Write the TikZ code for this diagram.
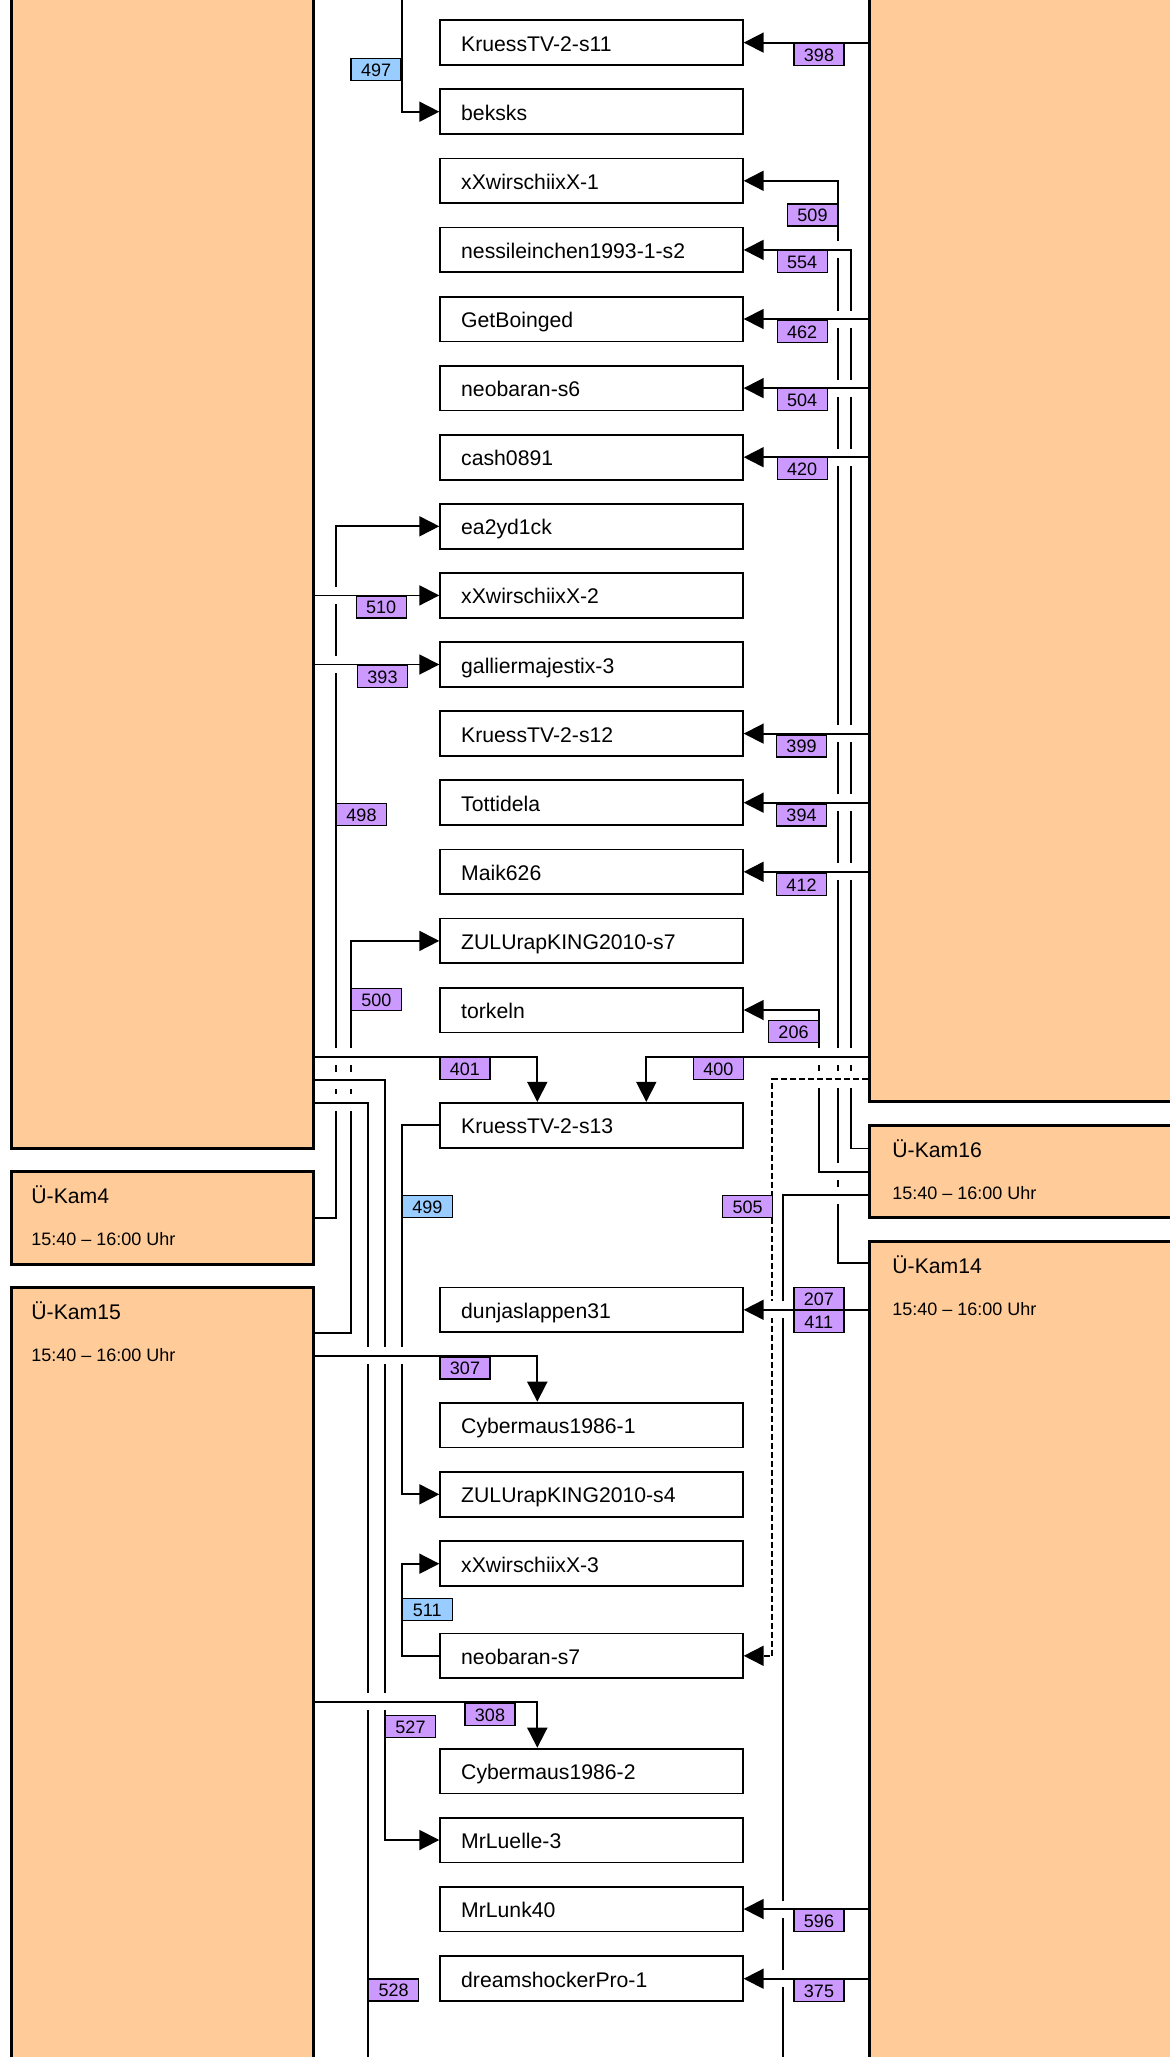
\documentclass[tikz,border=0pt]{standalone}
\usepackage{fontspec}
\setmainfont{Liberation Sans}
\usepackage{tikz}
\usetikzlibrary{arrows.meta}
\definecolor{kamorange}{HTML}{FFCC99}
\definecolor{taglila}{HTML}{CC99FF}
\definecolor{tagblau}{HTML}{99CCFF}
\tikzset{>={Triangle[length=10pt,width=10pt]}}
\tikzset{
  kam/.style={draw, line width=1.5pt, fill=kamorange, inner sep=0pt},
  slot/.style={draw, line width=0.9pt, fill=white, text width=130.3pt, align=left,
    inner xsep=10.5pt, inner ysep=0pt, minimum height=22.4pt, text height=8.5pt,
    text depth=0pt, font=\fontsize{10.6pt}{12pt}\selectfont},
  tag/.style={draw, line width=0.7pt, fill=taglila, inner sep=0pt, minimum width=25pt,
    minimum height=11pt, text height=6.8pt, text depth=0pt, font=\fontsize{9pt}{10pt}\selectfont},
  tagb/.style={tag, fill=tagblau},
  wire/.style={line width=0.9pt, preaction={draw=white, line width=8.5pt, solid, -}},
  planned/.style={wire, dash pattern=on 3pt off 1.5pt},
  kamname/.style={anchor=base west, inner sep=0pt, font=\fontsize{10.6pt}{12pt}\selectfont},
  kamtime/.style={anchor=base west, inner sep=0pt, font=\fontsize{9pt}{10pt}\selectfont}
}

\begin{document}
\begin{tikzpicture}[x=0.5pt, y=-0.5pt]
  \path[use as bounding box, fill=white] (0,0) rectangle (1170,2057);
  \clip (0,0) rectangle (1170,2057);

  % Kamerabereiche
  \node[kam, minimum width=151.15pt, minimum height=674.25pt] (kamL) at (162.15,474.25) {};
  \node[kam, minimum width=151.15pt, minimum height=46.75pt] (kam4) at (162.15,1217.75) {};
  \node[kam, minimum width=151.15pt, minimum height=506.5pt] (kam15) at (162.15,1793.5) {};
  \node[kam, minimum width=215.25pt, minimum height=650.65pt] (kamR) at (1084.75,450.65) {};
  \node[kam, minimum width=215.25pt, minimum height=45.85pt] (kam16) at (1084.75,1171.15) {};
  \node[kam, minimum width=215.25pt, minimum height=529.35pt] (kam14) at (1084.75,1770.65) {};
  \node[kamname] (kam4n) at (31,1203) {Ü-Kam4};
  \node[kamtime] (kam4t) at (31,1245.5) {15:40 – 16:00 Uhr};
  \node[kamname] (kam15n) at (31,1319) {Ü-Kam15};
  \node[kamtime] (kam15t) at (31,1361.5) {15:40 – 16:00 Uhr};
  \node[kamname] (kam16n) at (892,1157.3) {Ü-Kam16};
  \node[kamtime] (kam16t) at (892,1199.8) {15:40 – 16:00 Uhr};
  \node[kamname] (kam14n) at (892,1273.3) {Ü-Kam14};
  \node[kamtime] (kam14t) at (892,1315.8) {15:40 – 16:00 Uhr};

  % Slots
  \node[slot] (kruess11) at (591.5,42.6) {KruessTV-2-s11};
  \node[slot] (beksks) at (591.5,111.7) {beksks};
  \node[slot] (xx1) at (591.5,180.8) {xXwirschiixX-1};
  \node[slot] (nessi) at (591.5,249.9) {nessileinchen1993-1-s2};
  \node[slot] (getboinged) at (591.5,319) {GetBoinged};
  \node[slot] (neobaran6) at (591.5,388.1) {neobaran-s6};
  \node[slot] (cash) at (591.5,457.2) {cash0891};
  \node[slot] (ea) at (591.5,526.3) {ea2yd1ck};
  \node[slot] (xx2) at (591.5,595.4) {xXwirschiixX-2};
  \node[slot] (gallier) at (591.5,664.5) {galliermajestix-3};
  \node[slot] (kruess12) at (591.5,733.6) {KruessTV-2-s12};
  \node[slot] (totti) at (591.5,802.7) {Tottidela};
  \node[slot] (maik) at (591.5,871.8) {Maik626};
  \node[slot] (zulu7) at (591.5,940.9) {ZULUrapKING2010-s7};
  \node[slot] (torkeln) at (591.5,1010) {torkeln};
  \node[slot] (kruess13) at (591.5,1125.2) {KruessTV-2-s13};
  \node[slot] (dunja) at (591.5,1309.8) {dunjaslappen31};
  \node[slot] (cyber1) at (591.5,1425) {Cybermaus1986-1};
  \node[slot] (zulu4) at (591.5,1494.3) {ZULUrapKING2010-s4};
  \node[slot] (xx3) at (591.5,1563.7) {xXwirschiixX-3};
  \node[slot] (neobaran7) at (591.5,1655.8) {neobaran-s7};
  \node[slot] (cyber2) at (591.5,1771) {Cybermaus1986-2};
  \node[slot] (luelle) at (591.5,1840) {MrLuelle-3};
  \node[slot] (lunk) at (591.5,1909) {MrLunk40};
  \node[slot] (dream) at (591.5,1978.7) {dreamshockerPro-1};

  % Spuren und Hoehen
  \coordinate (lA) at (336.3,0);
  \coordinate (lB) at (351,0);
  \coordinate (lD) at (385.3,0);
  \coordinate (lE) at (401.7,0);
  \coordinate (rB) at (772.3,0);
  \coordinate (rD) at (819.3,0);
  \coordinate (rE) at (837.9,0);
  \coordinate (rF) at (850.7,0);
  \coordinate (h13) at (0,1056.8);
  \coordinate (h527) at (0,1080);
  \coordinate (h528) at (0,1102.7);
  \coordinate (h500) at (0,1332.7);
  \coordinate (h307) at (0,1355.7);
  \coordinate (h308) at (0,1701.7);
  \coordinate (h505) at (0,1079.3);
  \coordinate (h554) at (0,1148.5);
  \coordinate (h206) at (0,1171.8);
  \coordinate (h505s) at (0,1195);
  \coordinate (h509) at (0,1263);
  \coordinate (in497) at (401.7,-10);
  \coordinate (out528) at (368.3,2070);
  \coordinate (out505) at (783.3,2070);

  % links
  \draw[wire, ->] (kam4.east) -| (lA |- ea.west) -- (ea.west);
  \draw[wire, ->] (kam15.east |- h500) -| (lB |- zulu7.west) -- (zulu7.west);
  \draw[wire, ->] (kamL.east |- h527) -| (lD |- luelle.west) -- (luelle.west);
  \draw[wire] (kamL.east |- h528) -| (out528);
  \draw[wire, ->] (kruess13.west) -| (lE |- zulu4.west) -- (zulu4.west);
  \draw[wire, ->] (neobaran7.west) -| (lE |- xx3.west) -- (xx3.west);
  \draw[wire, ->] (in497) |- (beksks.west);
  \draw[wire, ->] (kamL.east |- xx2.west) -- (xx2.west);
  \draw[wire, ->] (kamL.east |- gallier.west) -- (gallier.west);
  \draw[wire, ->] (kamL.east |- h13) -| ([xshift=-27.1pt]kruess13.north);
  \draw[wire, ->] (kam15.east |- h307) -| ([xshift=-27.1pt]cyber1.north);
  \draw[wire, ->] (kam15.east |- h308) -| ([xshift=-27.1pt]cyber2.north);

  % rechts
  \draw[wire, ->] (kam14.west |- h509) -| (rE |- xx1.east) -- (xx1.east);
  \draw[wire, ->] (kam16.west |- h206) -| (rD |- torkeln.east) -- (torkeln.east);
  \draw[wire, ->] (kam16.west |- h554) -| (rF |- nessi.east) -- (nessi.east);
  \foreach \s in {kruess11,getboinged,neobaran6,cash,kruess12,totti,maik}
    \draw[wire, ->] (kamR.west |- \s.east) -- (\s.east);
  \draw[wire, ->] (kamR.west |- h13) -| ([xshift=27.4pt]kruess13.north);
  \draw[planned, ->] (kamR.west |- h505) -| (rB |- neobaran7.east) -- (neobaran7.east);
  \draw[wire] (kam16.west |- h505s) -| (out505);
  \foreach \s in {dunja,lunk,dream}
    \draw[wire, ->] (kam14.west |- \s.east) -- (\s.east);

  % Nummern
  \node[tagb] (t497) at (376.1,69.6) {497};
  \node[tag] (t398) at (819,54.2) {398};
  \node[tag] (t509) at (812.5,215) {509};
  \node[tag] (t554) at (802.2,261.7) {554};
  \node[tag] (t462) at (802.2,331.2) {462};
  \node[tag] (t504) at (802.2,399.5) {504};
  \node[tag] (t420) at (802.2,468.7) {420};
  \node[tag] (t510) at (381.2,607) {510};
  \node[tag] (t393) at (382.5,676.4) {393};
  \node[tag] (t399) at (801.5,745.8) {399};
  \node[tag] (t394) at (801.5,815) {394};
  \node[tag] (t412) at (801.5,884.2) {412};
  \node[tag] (t498) at (361.5,814.4) {498};
  \node[tag] (t500) at (376.4,999.4) {500};
  \node[tag] (t206) at (793.5,1031.7) {206};
  \node[tag] (t401) at (464.9,1068.3) {401};
  \node[tag] (t400) at (718.3,1068.3) {400};
  \node[tagb] (t499) at (427.4,1206.4) {499};
  \node[tag] (t505) at (747.7,1206.4) {505};
  \node[tag] (t207) at (818.8,1298.5) {207};
  \node[tag] (t411) at (818.8,1321.4) {411};
  \node[tag] (t307) at (465,1368) {307};
  \node[tagb] (t511) at (427.2,1609.4) {511};
  \node[tag] (t308) at (490,1714.2) {308};
  \node[tag] (t527) at (410.5,1726.7) {527};
  \node[tag] (t596) at (819,1920.5) {596};
  \node[tag] (t375) at (819,1990.2) {375};
  \node[tag] (t528) at (393.7,1990) {528};
\end{tikzpicture}
\end{document}
